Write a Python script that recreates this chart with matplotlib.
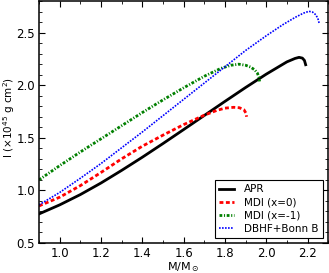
import matplotlib
matplotlib.use("Agg")
import matplotlib.pyplot as plt
from matplotlib.ticker import MultipleLocator

m_apr = [0.90, 1.00, 1.10, 1.20, 1.30, 1.40, 1.50, 1.60, 1.70, 1.80, 1.90, 2.00, 2.10,
         2.14, 2.159, 2.175, 2.185, 2.191]
i_apr = [0.776, 0.862, 0.960, 1.070, 1.190, 1.315, 1.445, 1.578, 1.712, 1.846, 1.978, 2.105,
         2.222, 2.255, 2.265, 2.258, 2.236, 2.195]

m_mdi0 = [0.90, 1.00, 1.10, 1.20, 1.30, 1.40, 1.50, 1.60, 1.70, 1.76, 1.80, 1.843, 1.87,
          1.892, 1.902, 1.905]
i_mdi0 = [0.852, 0.935, 1.045, 1.17, 1.30, 1.42, 1.525, 1.625, 1.715, 1.76, 1.782, 1.79, 1.786,
          1.767, 1.735, 1.70]

m_mdi1 = [0.90, 1.00, 1.10, 1.20, 1.30, 1.40, 1.50, 1.60, 1.70, 1.78, 1.83, 1.867, 1.90,
          1.924, 1.945, 1.957, 1.965, 1.968]
i_mdi1 = [1.10, 1.235, 1.365, 1.49, 1.615, 1.74, 1.86, 1.975, 2.085, 2.16, 2.19, 2.20, 2.19,
          2.173, 2.145, 2.116, 2.075, 2.036]

m_bonn = [0.90, 1.00, 1.10, 1.20, 1.30, 1.40, 1.50, 1.60, 1.70, 1.80, 1.90, 2.00, 2.08, 2.14,
          2.18, 2.207, 2.225, 2.24, 2.25, 2.256]
i_bonn = [0.862, 0.98, 1.115, 1.255, 1.405, 1.555, 1.71, 1.865, 2.02, 2.175, 2.33, 2.47, 2.575,
          2.645, 2.685, 2.703, 2.695, 2.67, 2.635, 2.592]

fig = plt.figure(figsize=(3.29, 2.73), dpi=100)
ax = fig.add_axes([0.1185, 0.11, 0.879, 0.886])

ax.plot(m_apr, i_apr, color="black", lw=2, ls="-", label="APR")
ax.plot(m_mdi0, i_mdi0, color="red", lw=2, ls=(0, (1.4, 0.9)), label="MDI (x=0)")
ax.plot(m_mdi1, i_mdi1, color="green", lw=2, ls=(0, (1.0, 0.6, 0.4, 0.6)), label="MDI (x=-1)")
ax.plot(m_bonn, i_bonn, color="blue", lw=1.2, ls=(0, (1.0, 0.8)), label="DBHF+Bonn B")

ax.set_xlim(0.9, 2.3)
ax.set_ylim(0.5, 2.8)
ax.xaxis.set_major_locator(MultipleLocator(0.2))
ax.xaxis.set_minor_locator(MultipleLocator(0.1))
ax.yaxis.set_major_locator(MultipleLocator(0.5))
ax.yaxis.set_minor_locator(MultipleLocator(0.1))
ax.tick_params(which="both", direction="in", top=True, right=True, labelsize=8.5)
ax.tick_params(which="major", length=4, pad=3)
ax.tick_params(which="minor", length=2)
for s in ax.spines.values():
    s.set_linewidth(1.1)

ax.set_xlabel(r"M/M$_\odot$", fontsize=8)
ax.xaxis.set_label_coords(0.5, -0.07)
ax.set_ylabel(r"I ($\times$10$^{45}$ g cm$^2$)", fontsize=7.5)
ax.yaxis.set_label_coords(-0.076, 0.52)

leg = ax.legend(loc="lower right", fontsize=7.5, handlelength=1.4, fancybox=False,
                framealpha=1, edgecolor="black", borderaxespad=0.5, labelspacing=0.3,
                handletextpad=1.0)
leg.get_frame().set_linewidth(0.8)

fig.savefig("out.png", dpi=100)
